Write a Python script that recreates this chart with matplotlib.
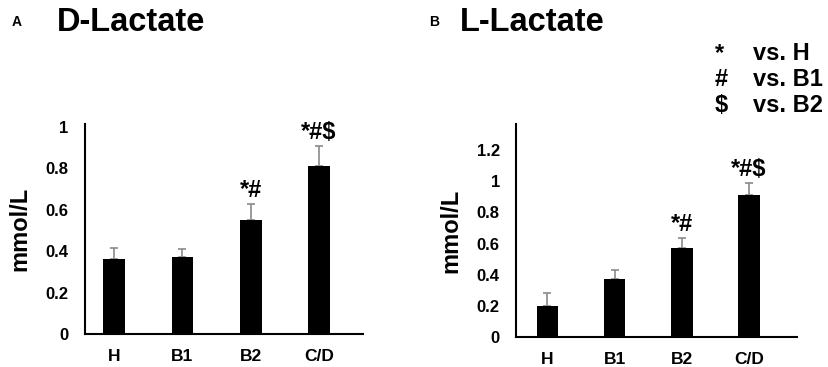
import matplotlib.pyplot as plt

groups = ["H", "B1", "B2", "C/D"]
d_lactate = [0.36, 0.37, 0.55, 0.81]
d_lactate_err = [0.057, 0.04, 0.077, 0.097]
l_lactate = [0.20, 0.37, 0.57, 0.915]
l_lactate_err = [0.08, 0.063, 0.065, 0.075]
d_marks = ["", "", "*#", "*#$"]
l_marks = ["", "", "*#", "*#$"]
d_ticks = [0, 0.2, 0.4, 0.6, 0.8, 1]
l_ticks = [0, 0.2, 0.4, 0.6, 0.8, 1, 1.2]
legend_symbols = ["*", "#", "$"]
legend_texts = ["vs. H", "vs. B1", "vs. B2"]

plt.rcParams["font.family"] = ["Liberation Sans", "DejaVu Sans"]
plt.rcParams["font.weight"] = "bold"

fig = plt.figure(figsize=(8.29, 3.67), dpi=100)


def panel(rect, vals, errs, marks, ticks, ylim, xlim):
    ax = fig.add_axes(rect)
    x = list(range(len(groups)))
    ax.bar(x, vals, width=0.32, color="black", zorder=2)
    ax.errorbar(x, vals, yerr=[[0] * len(errs), errs], fmt="none",
                ecolor="#8a8a8a", elinewidth=1.2, capsize=3, capthick=1.2, zorder=1)
    for i, m in enumerate(marks):
        if m:
            ax.text(i, vals[i] + errs[i] + 0.012, m, ha="center", va="bottom",
                    fontsize=17, fontweight="bold")
    ax.set_ylim(*ylim)
    ax.set_xlim(*xlim)
    ax.set_xticks(x)
    ax.set_xticklabels(groups, fontsize=12.5, fontweight="bold")
    ax.set_yticks(ticks)
    ax.set_yticklabels([f"{t:g}" for t in ticks], fontsize=12, fontweight="bold")
    ax.tick_params(length=0, pad=12)
    ax.tick_params(axis="x", pad=11)
    for s in ["top", "right"]:
        ax.spines[s].set_visible(False)
    for s in ["left", "bottom"]:
        ax.spines[s].set_linewidth(1.5)
    ax.set_ylabel("mmol/L", fontsize=17, fontweight="bold", labelpad=10)
    return ax


axA = panel([0.1025, 0.09, 0.3355, 0.572], d_lactate, d_lactate_err, d_marks,
            d_ticks, (0, 1.014), (-0.43, 3.65))
axB = panel([0.623, 0.0817, 0.338, 0.58], l_lactate, l_lactate_err, l_marks,
            l_ticks, (0, 1.367), (-0.46, 3.71))

fig.text(0.014, 0.94, "A", fontsize=10, fontweight="bold", va="center")
fig.text(0.069, 0.94, "D-Lactate", fontsize=23.5, fontweight="bold", va="center")
fig.text(0.518, 0.94, "B", fontsize=10, fontweight="bold", va="center")
fig.text(0.555, 0.94, "L-Lactate", fontsize=23.5, fontweight="bold", va="center")

for i, (sym, txt) in enumerate(zip(legend_symbols, legend_texts)):
    y = 1 - (54 + 26 * i) / 367
    fig.text(0.862, y, sym, fontsize=17, fontweight="bold", va="center")
    fig.text(0.908, y, txt, fontsize=17, fontweight="bold", va="center")

fig.savefig("out.png", dpi=100)
